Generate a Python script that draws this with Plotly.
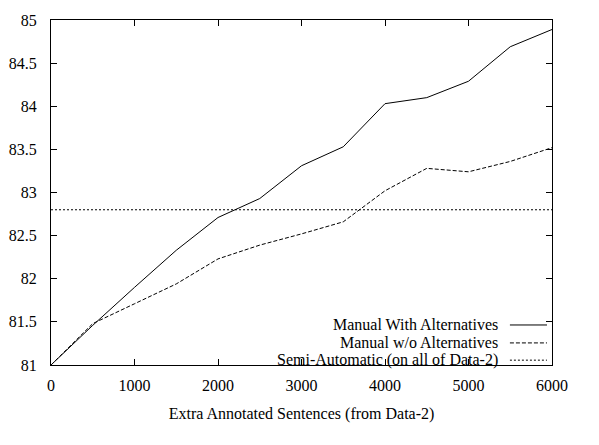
import plotly.graph_objects as go

sentences = [0, 500, 1000, 1500, 2000, 2500, 3000, 3500, 4000, 4500, 5000, 5500, 6000]
with_alternatives = [81.0, 81.46, 81.90, 82.33, 82.71, 82.93, 83.31, 83.53, 84.03, 84.10, 84.29, 84.69, 84.89]
without_alternatives = [81.0, 81.48, 81.71, 81.94, 82.23, 82.39, 82.52, 82.66, 83.02, 83.28, 83.24, 83.36, 83.52]
semi_automatic = 82.8
semi_x = [0, 6000]

series_names = ["Manual With Alternatives", "Manual w/o Alternatives", "Semi-Automatic (on all of Data-2)"]
x_ticks = [0, 1000, 2000, 3000, 4000, 5000, 6000]
y_ticks = [81, 81.5, 82, 82.5, 83, 83.5, 84, 84.5, 85]
y_tick_text = ["81", "81.5", "82", "82.5", "83", "83.5", "84", "84.5", "85"]

FONT = "Times New Roman"
SIZE = 16
dashes = ["solid", "4px,2px", "2px,2px"]

fig = go.Figure()
fig.add_trace(go.Scatter(x=sentences, y=with_alternatives, mode="lines", name=series_names[0],
                         line=dict(color="black", width=1, dash=dashes[0])))
fig.add_trace(go.Scatter(x=sentences, y=without_alternatives, mode="lines", name=series_names[1],
                         line=dict(color="black", width=1, dash=dashes[1])))
fig.add_trace(go.Scatter(x=semi_x, y=[semi_automatic, semi_automatic], mode="lines", name=series_names[2],
                         line=dict(color="black", width=1, dash=dashes[2])))

# gnuplot-style key: right-aligned text followed by the line sample
rows_y = [0.116, 0.064, 0.014]
for name, d, ry in zip(series_names, dashes, rows_y):
    fig.add_annotation(text=name, xref="paper", yref="paper", x=0.896, y=ry,
                       xanchor="right", yanchor="middle", showarrow=False,
                       font=dict(family=FONT, size=SIZE, color="black"))
    fig.add_shape(type="line", xref="paper", yref="paper", x0=0.916, x1=0.99, y0=ry, y1=ry,
                  line=dict(color="black", width=1, dash=d))

# the page body adds an 8px margin, so the figure is sized to fill the rest of the window
fig.update_layout(
    width=591, height=437,
    margin=dict(l=43, r=47, t=12, b=80, autoexpand=False),
    paper_bgcolor="white", plot_bgcolor="white",
    showlegend=False,
    font=dict(family=FONT, size=SIZE, color="black"),
)
fig.update_xaxes(range=[0, 6000], tickvals=x_ticks, ticks="inside", ticklen=6, tickcolor="black",
                 showline=True, linecolor="black", linewidth=1, mirror="ticks", showgrid=False,
                 zeroline=False, ticklabelstandoff=6, automargin=False,
                 tickfont=dict(family=FONT, size=SIZE),
                 title=dict(text="Extra Annotated Sentences (from Data-2)", standoff=14,
                            font=dict(family=FONT, size=SIZE)))
fig.update_yaxes(range=[81, 85], tickvals=y_ticks, ticktext=y_tick_text, ticks="inside", ticklen=6,
                 tickcolor="black", showline=True, linecolor="black", linewidth=1, mirror="ticks",
                 showgrid=False, zeroline=False, ticklabelstandoff=10, automargin=False,
                 tickfont=dict(family=FONT, size=SIZE))

fig.write_html("out.html")
